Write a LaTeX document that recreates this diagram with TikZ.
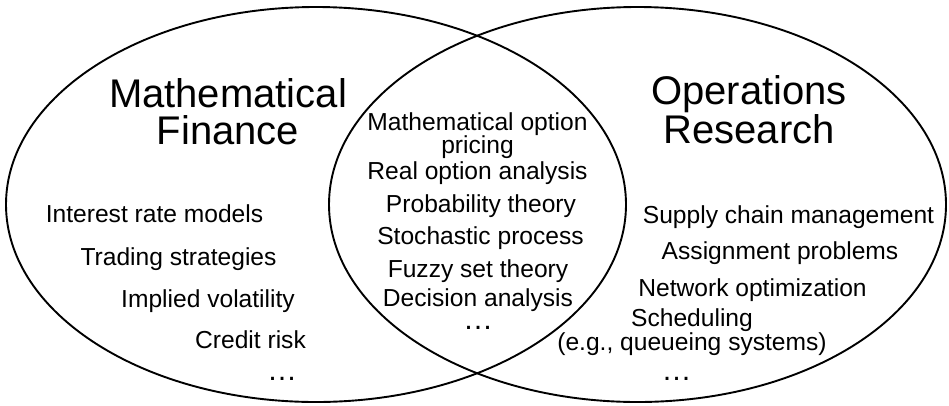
\documentclass[tikz,border=0pt]{standalone}
\usepackage{fontspec}
\setmainfont{Liberation Sans}
\newcommand{\bigdots}{{\fontsize{30}{23}\selectfont …}}
\begin{document}
\begin{tikzpicture}[x=1pt,y=-1pt,
  venn/.style={line width=1.9pt},
  title/.style={anchor=base, align=center, font=\fontsize{40}{37}\selectfont, inner sep=0pt},
  item/.style={anchor=base, font=\fontsize{24.6}{23}\selectfont, inner sep=0pt, align=center},
  dots/.style={anchor=base, font=\fontsize{30}{30}\selectfont, inner sep=0pt, text height=4pt, text depth=0pt}]
\useasboundingbox (0,0) rectangle (949,405);
\draw[venn] (316,204.5) ellipse [x radius=310, y radius=197.5];
\draw[venn] (637.5,204.5) ellipse [x radius=308.5, y radius=197.5];
% titles (base = baseline of last line)
\node[title] (mf) at (228,144) {Mathematical\\Finance};
\node[title] (or) at (749,143) {Operations\\Research};
% left items
\node[item] (l1) at (154.5,222) {Interest rate models};
\node[item] (l2) at (178.5,265) {Trading strategies};
\node[item] (l3) at (208,307) {Implied volatility};
\node[item] (l4) at (250.5,348) {Credit risk};
\node[dots] (l5) at (282,380) {…};
% middle items
\node[item] (m1) at (477.5,153) {Mathematical option\\pricing};
\node[item] (m2) at (477.5,179) {Real option analysis};
\node[item] (m3) at (481,212) {Probability theory};
\node[item] (m4) at (480.5,244) {Stochastic process};
\node[item] (m5) at (478,277) {Fuzzy set theory};
\node[item] (m6) at (478,329) {Decision analysis\\\bigdots};
% right items
\node[item] (r1) at (788.5,223) {Supply chain management};
\node[item] (r2) at (780,259) {Assignment problems};
\node[item] (r3) at (752.5,296) {Network optimization};
\node[item, font=\fontsize{24.6}{20}\selectfont] (r4) at (692,350) {Scheduling\\(e.g., queueing systems)};
\node[dots] (r5) at (676.5,380) {…};
\end{tikzpicture}
\end{document}
